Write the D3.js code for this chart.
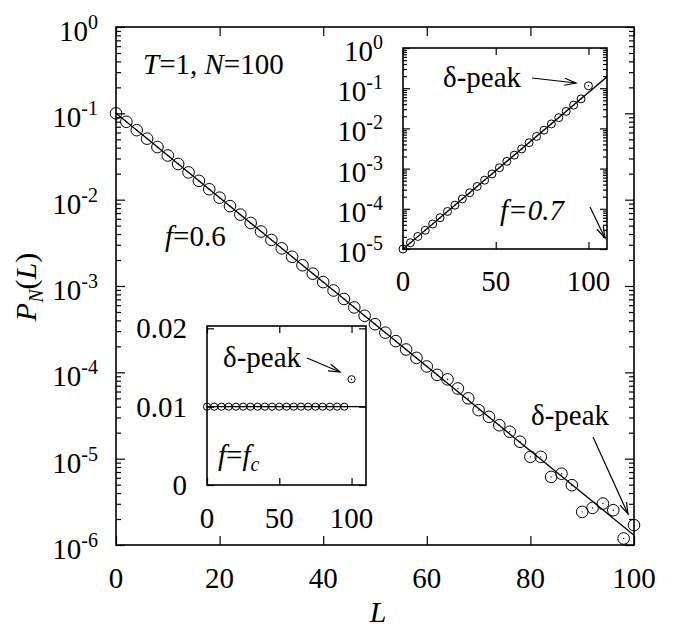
<!DOCTYPE html>
<html>
<head>
<meta charset="utf-8">
<script src="https://d3js.org/d3.v7.min.js"></script>
</head>
<body style="margin:0; background:#fff">
<script>
// ---- main panel data, f=0.6 ----
var mainL = [0, 2, 4, 6, 8, 10, 12, 14, 16, 18, 20, 22, 24, 26, 28, 30, 32, 34, 36, 38, 40,
  42, 44, 46, 48, 50, 52, 54, 56, 58, 60, 62, 64, 66, 68, 70, 72, 74, 76, 78, 80,
  82, 84, 86, 88, 90, 92, 94, 96, 98, 100];
var mainP = [0.1, 0.0798, 0.0638, 0.0509, 0.0407, 0.0325, 0.0259, 0.0207, 0.01653, 0.0132, 0.01054,
  0.00842, 0.00672, 0.00537, 0.00428, 0.00342, 0.00273, 0.00218, 0.00174, 0.00139, 0.00111,
  8.87e-4, 7.08e-4, 5.65e-4, 4.52e-4, 3.61e-4, 2.88e-4, 2.30e-4, 1.84e-4, 1.47e-4, 1.17e-4,
  9.35e-5, 8.3e-5, 6.5e-5, 5.0e-5, 3.65e-5, 3.05e-5, 2.44e-5, 2.05e-5, 1.57e-5, 1.05e-5,
  1.05e-5, 6.15e-6, 6.7e-6, 4.93e-6, 2.42e-6, 2.69e-6, 3.02e-6, 2.53e-6, 1.19e-6, 1.7e-6];
var mainFitL = [0, 100];
var mainFitP = [0.1, 1.3e-6];
var mainXTicks = [0, 20, 40, 60, 80, 100];
var mainYExp = [0, -1, -2, -3, -4, -5, -6];

// ---- inset 1 (upper right), f=0.7 ----
var in1L = [0, 4, 8, 12, 16, 20, 24, 28, 32, 36, 40, 44, 48, 52, 56, 60, 64, 68, 72, 76, 80,
  84, 88, 92, 96, 100];
var in1P = [1.0e-5, 1.43e-5, 2.05e-5, 2.93e-5, 4.19e-5, 6.0e-5, 8.59e-5, 1.23e-4, 1.76e-4, 2.51e-4,
  3.6e-4, 5.15e-4, 7.37e-4, 1.05e-3, 1.51e-3, 2.16e-3, 3.09e-3, 4.42e-3, 6.32e-3, 9.04e-3,
  1.29e-2, 1.85e-2, 2.65e-2, 3.79e-2, 5.42e-2, 0.115];
var in1FitL = [0, 110];
var in1FitP = [1e-5, 0.192];
var in1XTicks = [0, 50, 100];
var in1YExp = [0, -1, -2, -3, -4, -5];

// ---- inset 2 (lower left), f=fc ----
var in2L = [0, 5, 10, 15, 20, 25, 30, 35, 40, 45, 50, 55, 60, 65, 70, 75, 80, 85, 90, 95, 100];
var in2P = [0.01, 0.01, 0.01, 0.01, 0.01, 0.01, 0.01, 0.01, 0.01, 0.01, 0.01,
  0.01, 0.01, 0.01, 0.01, 0.01, 0.01, 0.01, 0.01, 0.01, 0.0135];
var in2FitL = [0, 110];
var in2FitP = [0.01, 0.01];
var in2XTicks = [0, 50, 100];
var in2YTicks = [0, 0.01, 0.02];

var svg = d3.select("body").append("svg").attr("width", 676).attr("height", 635);

function logMinors(lo, hi) {
  var out = [];
  for (var e = lo; e < hi; e++)
    for (var k = 2; k <= 9; k++) out.push(k * Math.pow(10, e));
  return out;
}

// inward ticks, no domain line
function ticks(g, axisFn, scale, values, size, tx, ty) {
  g.append("g")
    .attr("transform", "translate(" + tx + "," + ty + ")")
    .call(axisFn(scale).tickValues(values).tickSize(-size).tickFormat(""))
    .call(function (s) { s.select(".domain").remove(); })
    .selectAll("line").attr("stroke-width", 1.2);
}

function txt(x, y, size) {
  return svg.append("text").attr("x", x).attr("y", y)
    .style("font-family", "Liberation Serif", "important")
    .style("font-size", size + "px").attr("fill", "#000");
}

function powLabel(x, y, exp) {
  var t = txt(x, y, 29).attr("text-anchor", "end");
  t.append("tspan").text("10");
  t.append("tspan").attr("dy", -12).style("font-size", "20px").text(exp);
}

function circles(g, x, y, L, P, r) {
  var pts = g.append("g");
  pts.selectAll("circle.pt").data(L).enter().append("circle").attr("class", "pt")
    .attr("cx", function (d) { return x(d); })
    .attr("cy", function (d, i) { return y(P[i]); })
    .attr("r", r).attr("fill", "none").attr("stroke", "#000").attr("stroke-width", 1);
  pts.selectAll("circle.dot").data(L).enter().append("circle").attr("class", "dot")
    .attr("cx", function (d) { return x(d); })
    .attr("cy", function (d, i) { return y(P[i]); })
    .attr("r", 0.7).attr("fill", "#000");
}

function fitLine(g, x, y, L, P) {
  g.append("path")
    .datum(L)
    .attr("d", d3.line().x(function (d) { return x(d); }).y(function (d, i) { return y(P[i]); }))
    .attr("fill", "none").attr("stroke", "#000").attr("stroke-width", 1.3);
}

function arrow(g, x1, y1, x2, y2) {
  var a = Math.atan2(y2 - y1, x2 - x1), h = 12, w = 0.3;
  g.append("line").attr("x1", x1).attr("y1", y1).attr("x2", x2).attr("y2", y2)
    .attr("stroke", "#000").attr("stroke-width", 1.2);
  g.append("path")
    .attr("d", "M" + (x2 - h * Math.cos(a - w)) + "," + (y2 - h * Math.sin(a - w)) +
      "L" + x2 + "," + y2 +
      "L" + (x2 - h * Math.cos(a + w)) + "," + (y2 - h * Math.sin(a + w)))
    .attr("fill", "none").attr("stroke", "#000").attr("stroke-width", 1.2);
}

// ================= MAIN =================
var M = { left: 116, right: 634, top: 27, bottom: 545 };
var x = d3.scaleLinear().domain([0, 100]).range([M.left, M.right]);
var y = d3.scaleLog().domain([1e-6, 1]).range([M.bottom, M.top]);
var main = svg.append("g");
var mainMaj = mainYExp.map(function (e) { return Math.pow(10, e); });
var mainMin = logMinors(-6, 0);
var H = M.bottom - M.top, W = M.right - M.left;

ticks(main, d3.axisLeft, y, mainMaj, 9, M.left, 0);
ticks(main, d3.axisLeft, y, mainMin, 5, M.left, 0);
ticks(main, d3.axisRight, y, mainMaj, 9, M.right, 0);
ticks(main, d3.axisRight, y, mainMin, 5, M.right, 0);
ticks(main, d3.axisBottom, x, mainXTicks, 9, 0, M.bottom);
ticks(main, d3.axisTop, x, mainXTicks, 9, 0, M.top);

fitLine(main, x, y, mainFitL, mainFitP);
circles(main, x, y, mainL, mainP, 5.8);

main.append("rect").attr("x", M.left).attr("y", M.top).attr("width", W).attr("height", H)
  .attr("fill", "none").attr("stroke", "#000").attr("stroke-width", 1.6);

// ================= INSET 1 =================
var I1 = { left: 403, right: 607, top: 48, bottom: 249 };
var x1 = d3.scaleLinear().domain([0, 110]).range([I1.left, I1.right]);
var y1 = d3.scaleLog().domain([1e-5, 1]).range([I1.bottom, I1.top]);
var in1 = svg.append("g");
in1.append("rect").attr("x", I1.left).attr("y", I1.top)
  .attr("width", I1.right - I1.left).attr("height", I1.bottom - I1.top).attr("fill", "#fff");
var in1Maj = in1YExp.map(function (e) { return Math.pow(10, e); });
var in1Min = logMinors(-5, 0);
ticks(in1, d3.axisLeft, y1, in1Maj, 7, I1.left, 0);
ticks(in1, d3.axisLeft, y1, in1Min, 4, I1.left, 0);
ticks(in1, d3.axisRight, y1, in1Maj, 7, I1.right, 0);
ticks(in1, d3.axisRight, y1, in1Min, 4, I1.right, 0);
ticks(in1, d3.axisBottom, x1, in1XTicks, 7, 0, I1.bottom);
ticks(in1, d3.axisTop, x1, in1XTicks, 7, 0, I1.top);

in1.append("clipPath").attr("id", "clip1").append("rect")
  .attr("x", I1.left).attr("y", I1.top).attr("width", I1.right - I1.left).attr("height", I1.bottom - I1.top);
fitLine(in1.append("g").attr("clip-path", "url(#clip1)"), x1, y1, in1FitL, in1FitP);
circles(in1, x1, y1, in1L, in1P, 4);

in1.append("rect").attr("x", I1.left).attr("y", I1.top)
  .attr("width", I1.right - I1.left).attr("height", I1.bottom - I1.top)
  .attr("fill", "none").attr("stroke", "#000").attr("stroke-width", 1.6);
arrow(in1, 532, 78, 576, 83);
arrow(in1, 590, 207, 605, 238);

// ================= INSET 2 =================
var I2 = { left: 207, right: 366, top: 326, bottom: 485 };
var x2 = d3.scaleLinear().domain([0, 110]).range([I2.left, I2.right]);
var y2 = d3.scaleLinear().domain([0, 0.0203]).range([I2.bottom, I2.top]);
var in2 = svg.append("g");
in2.append("rect").attr("x", I2.left).attr("y", I2.top)
  .attr("width", I2.right - I2.left).attr("height", I2.bottom - I2.top).attr("fill", "#fff");
ticks(in2, d3.axisLeft, y2, in2YTicks, 7, I2.left, 0);
ticks(in2, d3.axisRight, y2, in2YTicks, 7, I2.right, 0);
ticks(in2, d3.axisBottom, x2, in2XTicks, 7, 0, I2.bottom);
ticks(in2, d3.axisTop, x2, in2XTicks, 7, 0, I2.top);

fitLine(in2, x2, y2, in2FitL, in2FitP);
circles(in2, x2, y2, in2L, in2P, 3.6);

in2.append("rect").attr("x", I2.left).attr("y", I2.top)
  .attr("width", I2.right - I2.left).attr("height", I2.bottom - I2.top)
  .attr("fill", "none").attr("stroke", "#000").attr("stroke-width", 1.6);
arrow(in2, 307, 358, 340, 372);
arrow(main, 593, 437, 628, 514);

// ================= TEXT =================
mainYExp.forEach(function (e) { powLabel(M.left - 18, y(Math.pow(10, e)) + 14, String(e)); });
mainXTicks.forEach(function (d) {
  txt(x(d), M.bottom + 43, 29).attr("text-anchor", "middle").text(d);
});
txt(378, 622, 30).attr("text-anchor", "middle").style("font-style", "italic").text("L");
var yt = txt(0, 0, 30).attr("transform", "translate(36,287) rotate(-90)").attr("text-anchor", "middle");
yt.append("tspan").style("font-style", "italic").text("P");
yt.append("tspan").style("font-style", "italic").style("font-size", "20px").attr("dy", 7).text("N");
yt.append("tspan").attr("dy", -7).text("(");
yt.append("tspan").style("font-style", "italic").text("L");
yt.append("tspan").text(")");

var tn = txt(143, 74, 29);
tn.append("tspan").style("font-style", "italic").text("T");
tn.append("tspan").text("=1, ");
tn.append("tspan").style("font-style", "italic").text("N");
tn.append("tspan").text("=100");

var f6 = txt(165, 246, 29);
f6.append("tspan").style("font-style", "italic").text("f");
f6.append("tspan").text("=0.6");
txt(531, 425, 29).text("\u03b4-peak");

in1YExp.forEach(function (e) { powLabel(I1.left - 20, y1(Math.pow(10, e)) + 13, String(e)); });
in1XTicks.forEach(function (d) {
  txt(x1(d), I1.bottom + 42, 29).attr("text-anchor", "middle").text(d);
});
txt(443, 87, 29).text("\u03b4-peak");
txt(500, 220, 29).style("font-style", "italic").text("f=0.7");

in2YTicks.forEach(function (d) {
  txt(I2.left - 20, y2(d) + 10, 29).attr("text-anchor", "end").text(d);
});
in2XTicks.forEach(function (d) {
  txt(x2(d), I2.bottom + 43, 29).attr("text-anchor", "middle").text(d);
});
txt(223, 367, 29).text("\u03b4-peak");
var fc = txt(218, 465, 29);
fc.append("tspan").style("font-style", "italic").text("f");
fc.append("tspan").text("=");
fc.append("tspan").style("font-style", "italic").text("f");
fc.append("tspan").style("font-style", "italic").style("font-size", "20px").attr("dy", 6).text("c");
</script>
</body>
</html>
